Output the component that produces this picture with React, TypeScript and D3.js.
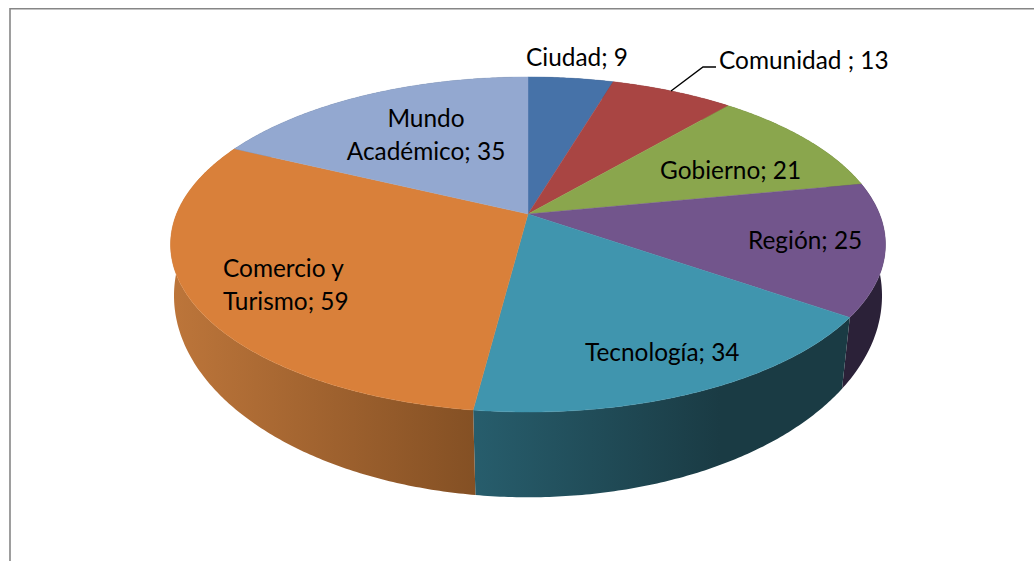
import React from 'react';
import * as d3 from 'd3';

const categories = ['Ciudad', 'Comunidad', 'Gobierno', 'Región', 'Tecnología', 'Comercio y Turismo', 'Mundo Académico'];
const seriesValues = [9, 13, 21, 25, 34, 59, 35];
const topColors = ['#4672A8', '#A94543', '#8AA64D', '#72558C', '#4095AE', '#D9803A', '#93A8D0'];
const wallStops = [
  ['#2B4466', '#2B4466'],
  ['#662A28', '#662A28'],
  ['#53642E', '#53642E'],
  ['#2B2138', '#2B2138'],
  ['#275D6C', '#1A3B44'],
  ['#BC753A', '#845024'],
  ['#5A6680', '#5A6680'],
];
const labelRows = [
  { lines: ['Ciudad; 9'], x: 526, y: 66, anchor: 'start' },
  { lines: ['Comunidad ; 13'], x: 719, y: 69, anchor: 'start' },
  { lines: ['Gobierno; 21'], x: 660, y: 179, anchor: 'start' },
  { lines: ['Región; 25'], x: 748, y: 249, anchor: 'start' },
  { lines: ['Tecnología; 34'], x: 585, y: 361, anchor: 'start' },
  { lines: ['Comercio y', 'Turismo; 59'], x: 223, y: 277, anchor: 'start' },
  { lines: ['Mundo', 'Académico; 35'], x: 426, y: 127, anchor: 'middle' },
];
const leader: [number, number][] = [[671, 91], [703, 67], [716, 67]];

const CX = 528;
const topRing = { a: 351.5, b: 162, k: 0.182, cy: 214 };
const bottomRing = { a: 350, b: 197, k: 0.15, cy: 265.5 };
type Ring = typeof topRing;

const project = (theta: number, r: Ring): [number, number] => {
  const u = Math.sin(theta), v = Math.cos(theta), d = 1 + r.k * v;
  return [CX + (r.a * u) / d, r.cy - (r.b * v) / d];
};
const line = d3.line<[number, number]>();
const arcPts = (a0: number, a1: number, r: Ring) => {
  const n = Math.max(4, Math.ceil((a1 - a0) / 0.01));
  return d3.range(n + 1).map((i) => project(a0 + ((a1 - a0) * i) / n, r));
};

const arcs = d3.pie<number>().sort(null)(seriesValues);

export default function App() {
  const walls = arcs.map((a, i) => {
    const top = arcPts(a.startAngle, a.endAngle, topRing);
    const bot = arcPts(a.startAngle, a.endAngle, bottomRing).reverse();
    return { d: line([...top, ...bot])! + 'Z', i };
  });
  const tops = arcs.map((a, i) => ({
    d: line([[CX, topRing.cy], ...arcPts(a.startAngle, a.endAngle, topRing)])! + 'Z',
    i,
  }));
  return (
    <svg
      width={1034}
      height={561}
      style={{ position: 'absolute', left: 0, top: 0, background: '#fff' }}
      fontFamily="Lato, Carlito, sans-serif"
    >
      <defs>
        {wallStops.map((s, i) => (
          <linearGradient key={i} id={`wall${i}`} gradientUnits="userSpaceOnUse" x1={i === 5 ? 175 : 475} x2={i === 5 ? 475 : 720} y1={0} y2={0}>
            <stop offset="0" stopColor={s[0]} />
            <stop offset="1" stopColor={s[1]} />
          </linearGradient>
        ))}
      </defs>
      <path d="M10 561V8.75H1034" fill="none" stroke="#868686" strokeWidth={1.6} />
      {walls.map((w) => (
        <path key={w.i} d={w.d} fill={`url(#wall${w.i})`} />
      ))}
      {tops.map((t) => (
        <path key={t.i} d={t.d} fill={topColors[t.i]} stroke={topColors[t.i]} strokeWidth={0.4}>
          <title>{categories[t.i]}</title>
        </path>
      ))}
      <path d={line(leader)!} fill="none" stroke="#000" strokeWidth={1.4} />
      {labelRows.map((l, i) => (
        <text key={i} x={l.x} y={l.y} textAnchor={l.anchor} fontSize={24.4} fill="#000">
          {l.lines.map((s, j) => (
            <tspan key={j} x={l.x} dy={j === 0 ? 0 : 33}>
              {s}
            </tspan>
          ))}
        </text>
      ))}
    </svg>
  );
}
